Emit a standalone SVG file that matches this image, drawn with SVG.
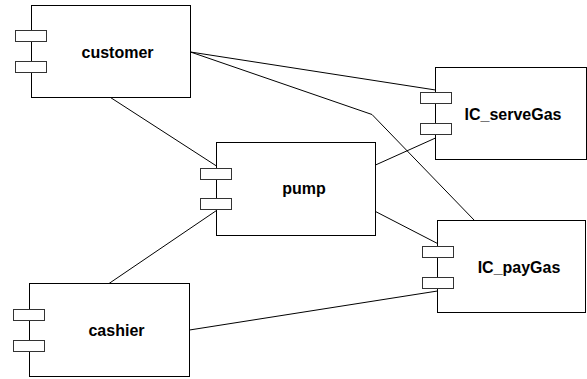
<svg xmlns="http://www.w3.org/2000/svg" width="587" height="379" viewBox="0 0 587 379">
  <style>
    .body { fill: #ffffff; stroke: #000000; stroke-width: 1; }
    .port { fill: #ffffff; stroke: #333333; stroke-width: 1; }
    .label { font-family: "Liberation Sans", Arial, sans-serif; font-size: 16px; font-weight: bold; fill: #000000; text-anchor: middle; }
    .link { fill: none; stroke: #000000; stroke-width: 1; }
  </style>
  <rect width="587" height="379" fill="#ffffff"/>

  <!-- connectors -->
  <g id="connectors">
    <line class="link" x1="110.5" y1="97.5" x2="216.5" y2="166"/>
    <line class="link" x1="190.5" y1="52" x2="435.5" y2="90"/>
    <polyline class="link" points="190.5,52 372,114.5 474.5,220.5"/>
    <line class="link" x1="375.5" y1="165" x2="435.5" y2="138"/>
    <line class="link" x1="375.5" y1="211.5" x2="437.5" y2="243.5"/>
    <line class="link" x1="109" y1="283.5" x2="216.5" y2="210.5"/>
    <line class="link" x1="189.5" y1="330" x2="437.5" y2="291"/>
  </g>

  <!-- components -->
  <g id="customer">
    <rect class="body" x="31.5" y="5.5" width="159" height="92"/>
    <rect class="port" x="15.5" y="30.5" width="31" height="11"/>
    <rect class="port" x="15.5" y="61.5" width="31" height="11"/>
    <text class="label" x="117.5" y="57.5">customer</text>
  </g>

  <g id="pump">
    <rect class="body" x="216.5" y="142.5" width="159" height="93"/>
    <rect class="port" x="200.5" y="168.5" width="31" height="11"/>
    <rect class="port" x="200.5" y="198.5" width="31" height="11"/>
    <text class="label" x="304" y="193.5">pump</text>
  </g>

  <g id="IC_serveGas">
    <rect class="body" x="435.5" y="67.5" width="151" height="92"/>
    <rect class="port" x="420.5" y="92.5" width="31" height="11"/>
    <rect class="port" x="420.5" y="123.5" width="31" height="11"/>
    <text class="label" x="513" y="119.5">IC_serveGas</text>
  </g>

  <g id="IC_payGas">
    <rect class="body" x="437.5" y="220.5" width="148" height="92"/>
    <rect class="port" x="422.5" y="246.5" width="31" height="11"/>
    <rect class="port" x="422.5" y="277.5" width="31" height="11"/>
    <text class="label" x="519" y="272.5">IC_payGas</text>
  </g>

  <g id="cashier">
    <rect class="body" x="29.5" y="283.5" width="160" height="93"/>
    <rect class="port" x="13.5" y="309.5" width="31" height="11"/>
    <rect class="port" x="13.5" y="340.5" width="31" height="11"/>
    <text class="label" x="116.5" y="335.5">cashier</text>
  </g>
</svg>
